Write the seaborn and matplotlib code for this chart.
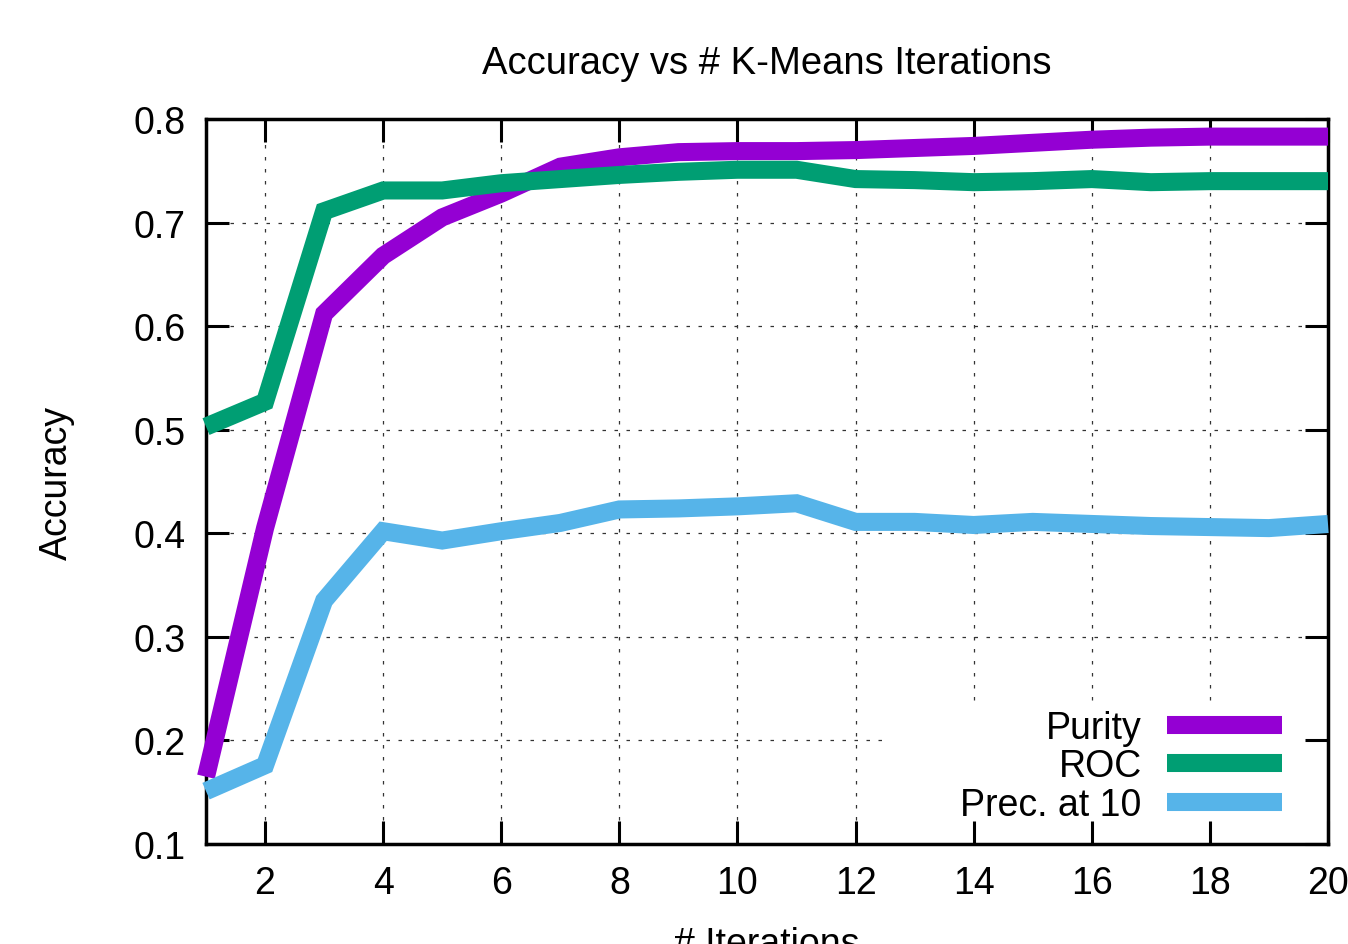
import matplotlib
matplotlib.use("Agg")
import matplotlib.pyplot as plt
from matplotlib.patches import Rectangle
import seaborn as sns
import pandas as pd

iterations = list(range(1, 21))
purity = [0.165, 0.405, 0.612, 0.668, 0.705, 0.728, 0.754, 0.763, 0.768, 0.769,
          0.769, 0.770, 0.772, 0.774, 0.777, 0.780, 0.782, 0.783, 0.783, 0.783]
roc = [0.503, 0.527, 0.711, 0.731, 0.731, 0.738, 0.742, 0.746, 0.749, 0.751,
       0.751, 0.742, 0.741, 0.739, 0.740, 0.742, 0.739, 0.740, 0.740, 0.740]
prec10 = [0.151, 0.176, 0.335, 0.402, 0.393, 0.402, 0.410, 0.423, 0.424, 0.426,
          0.429, 0.411, 0.411, 0.408, 0.411, 0.409, 0.407, 0.406, 0.405, 0.409]
series_names = ["Purity", "ROC", "Prec. at 10"]
series_colors = ["#9400D3", "#009E73", "#56B4E9"]
x_ticks = [2, 4, 6, 8, 10, 12, 14, 16, 18, 20]
y_ticks = [0.1, 0.2, 0.3, 0.4, 0.5, 0.6, 0.7, 0.8]

sns.set_style("ticks")
plt.rcParams["font.family"] = ["Liberation Sans", "DejaVu Sans"]
plt.rcParams["text.color"] = "black"
plt.rcParams["axes.labelcolor"] = "black"
plt.rcParams["xtick.color"] = "black"
plt.rcParams["ytick.color"] = "black"

FS = 27
fig = plt.figure(figsize=(13.48, 9.45), dpi=100)
ax = fig.add_axes([206 / 1348, 1 - 845 / 945, 1122 / 1348, 725 / 945])

for name, vals, col in zip(series_names, [purity, roc, prec10], series_colors):
    df = pd.DataFrame({"x": iterations, "y": vals})
    sns.lineplot(data=df, x="x", y="y", ax=ax, color=col, linewidth=13,
                 label=name, solid_joinstyle="miter", solid_capstyle="butt",
                 clip_on=False, zorder=3)

ax.set_xlim(1, 20)
ax.set_ylim(0.1, 0.8)
ax.set_xticks(x_ticks)
ax.set_yticks(y_ticks)
ax.set_yticklabels([f"{v:.1f}" for v in y_ticks])

ax.set_axisbelow(True)
ax.grid(True, color="#333333", linewidth=0.9, linestyle=(0, (2.8, 6.8)))

# white key area that hides the grid behind the legend
ax.add_patch(Rectangle((0.6087, 0.0317), 0.9795 - 0.6087, 0.193 - 0.0317,
                       transform=ax.transAxes, facecolor="white",
                       edgecolor="none", zorder=0.8))

for s in ax.spines.values():
    s.set_visible(True)
    s.set_linewidth(2.5)
    s.set_color("black")
ax.tick_params(axis="both", which="major", direction="in", length=16.5,
               width=2.2, top=True, right=True, labelsize=FS, pad=15,
               colors="black")

ax.set_title("Accuracy vs # K-Means Iterations", fontsize=27.5, pad=33,
             color="black")
ax.set_xlabel("# Iterations", fontsize=FS, labelpad=18, color="black")
ax.set_ylabel("Accuracy", fontsize=FS, labelpad=42, color="black")

leg = ax.legend(loc="lower right", bbox_to_anchor=(0.959, 0.029),
                frameon=False, fontsize=FS, markerfirst=False,
                handlelength=3.07, handletextpad=0.67, labelspacing=0.07,
                borderpad=0, borderaxespad=0)
for t in leg.get_texts():
    t.set_color("black")

fig.savefig("out.png", dpi=100, facecolor="white")
